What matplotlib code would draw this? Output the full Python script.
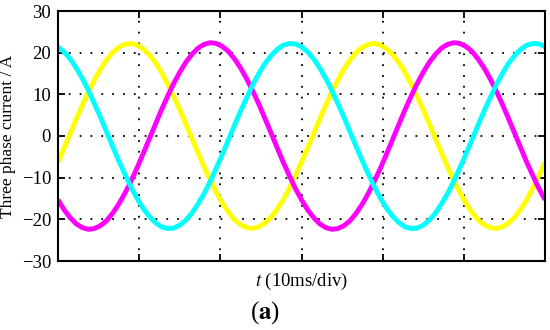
import matplotlib
matplotlib.use("Agg")
import matplotlib.pyplot as plt

plt.rcParams["mathtext.fontset"] = "stix"

# time samples in ms (10 ms per division, 6 divisions)
t_ms = [i * 0.75 for i in range(81)]

_ya = [-6.3, -2.9, 0.6, 4.1, 7.4, 10.6, 13.5, 16.1, 18.3, 20.1,
       21.3, 22.0, 22.2, 21.8, 20.9, 19.5, 17.6, 15.3, 12.5, 9.5,
       6.3, 2.9, -0.6, -4.1, -7.4, -10.6, -13.5, -16.1, -18.3, -20.1,
       -21.3, -22.0, -22.2, -21.8, -20.9, -19.5, -17.6, -15.3, -12.5, -9.5]
_mb = [-15.3, -17.7, -19.6, -21.1, -22.0, -22.4, -22.2, -21.5, -20.3, -18.5,
       -16.3, -13.7, -10.8, -7.6, -4.2, -0.7, 2.8, 6.3, 9.5, 12.6,
       15.3, 17.7, 19.6, 21.1, 22.0, 22.4, 22.2, 21.5, 20.3, 18.5,
       16.3, 13.7, 10.8, 7.6, 4.2, 0.7, -2.8, -6.3, -9.5, -12.6]
_cc = [21.4, 20.2, 18.5, 16.3, 13.8, 10.9, 7.7, 4.4, 0.9, -2.6,
       -6.0, -9.2, -12.3, -15.0, -17.4, -19.3, -20.8, -21.8, -22.2, -22.1,
       -21.4, -20.2, -18.5, -16.3, -13.8, -10.9, -7.7, -4.4, -0.9, 2.6,
       6.0, 9.2, 12.3, 15.0, 17.4, 19.3, 20.8, 21.8, 22.2, 22.1]

phase_a = _ya + _ya + [_ya[0]]
phase_b = _mb + _mb + [_mb[0]]
phase_c = _cc + _cc + [_cc[0]]

y_ticks = [-30, -20, -10, 0, 10, 20, 30]
x_ticks = [0, 10, 20, 30, 40, 50, 60]

fig = plt.figure(figsize=(5.5, 3.3), dpi=100)
ax = fig.add_axes([58/550, 1-261/330, (545-58)/550, (261-11)/330])

for y, c in [(phase_a, "#FFFF00"), (phase_b, "#FF00FF"), (phase_c, "#00FFFF")]:
    ax.plot(t_ms, y, color=c, lw=3.5, solid_joinstyle="round", solid_capstyle="butt")

ax.set_xlim(0, 60)
ax.set_ylim(-30, 30)
ax.set_xticks(x_ticks)
ax.set_xticklabels([])
ax.set_yticks(y_ticks)
ax.set_yticklabels([str(v).replace("-", "\u2212") for v in y_ticks],
                   family="Liberation Serif", fontsize=13.5)
ax.tick_params(direction="in", length=5, width=1.3, top=True, right=True, pad=5)
ax.grid(True, color="black", linestyle=(0, (1, 5)), linewidth=1.3)
for s in ax.spines.values():
    s.set_linewidth(1.5)

ax.set_ylabel("Three phase current / A", family="Liberation Serif", fontsize=12.5, labelpad=4)
ax.set_xlabel(r"$t$ (10ms/div)", family="Liberation Serif", fontsize=13.5, labelpad=2)

fig.text(265/550, 1-313/330, r"($\mathbf{a}$)", family="Liberation Serif", fontsize=18,
         ha="center", va="center")

fig.savefig("out.png", dpi=100)
